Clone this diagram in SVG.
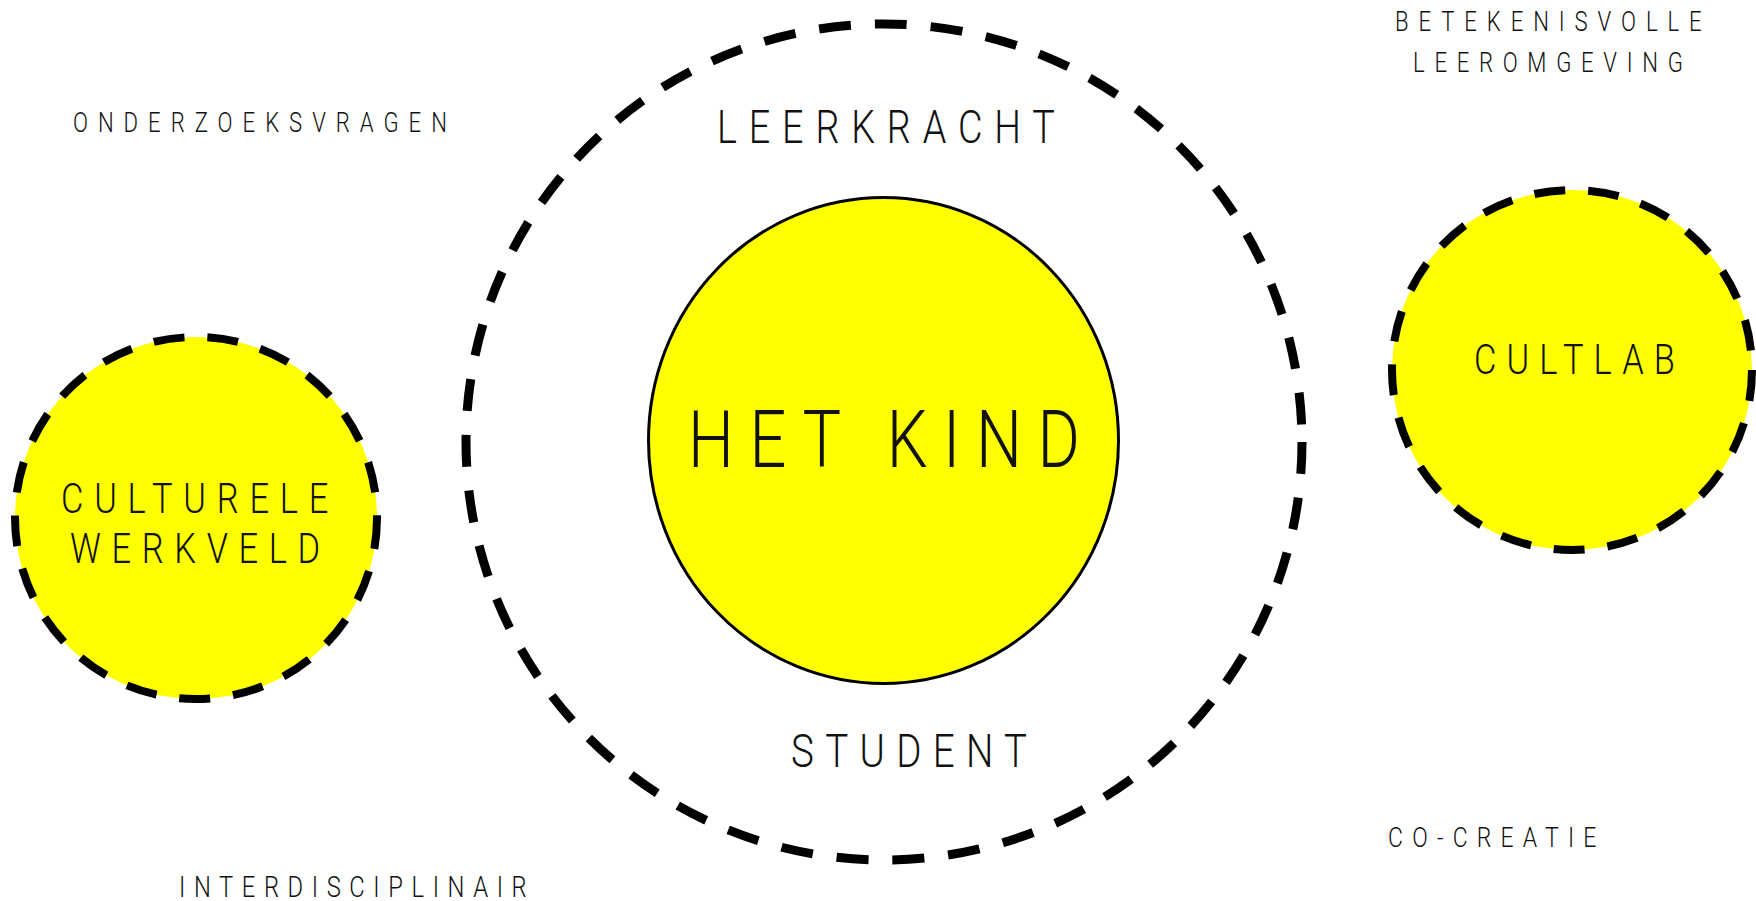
<svg xmlns="http://www.w3.org/2000/svg" width="1756" height="901" viewBox="0 0 1756 901">
<style>
.t{font-family:Roboto,"Liberation Sans",sans-serif;font-weight:300;fill:#111}
.yd{fill:#FFFF00;stroke:#000;stroke-width:8;stroke-dasharray:31 23}
.big{fill:none;stroke:#000;stroke-width:9;stroke-dasharray:32 24}
</style>
<rect width="1756" height="901" fill="#fff"/>
<g id="connectors"></g>
<g id="leerkracht-ring">
<circle class="big" cx="884" cy="442" r="418"/>
<g transform="scale(0.82 1)">
<text class="t" x="874.4" y="143" font-size="46" textLength="412" lengthAdjust="spacing">LEERKRACHT</text>
<text class="t" x="964.6" y="767" font-size="47" textLength="288" lengthAdjust="spacing">STUDENT</text>
</g>
</g>
<g id="het-kind">
<ellipse cx="883.5" cy="440.5" rx="235" ry="243" fill="#FFFF00" stroke="#000" stroke-width="3"/>
<g transform="scale(0.82 1)">
<text class="t" x="839" y="467" font-size="79" textLength="478" lengthAdjust="spacing">HET KIND</text>
</g>
</g>
<g id="culturele-werkveld">
<circle class="yd" cx="196" cy="518" r="181"/>
<g transform="scale(0.82 1)">
<text class="t" x="74.4" y="513" font-size="42" textLength="326" lengthAdjust="spacing">CULTURELE</text>
<text class="t" x="85.4" y="563" font-size="42" textLength="305" lengthAdjust="spacing">WERKVELD</text>
</g>
</g>
<g id="cultlab">
<circle class="yd" cx="1572" cy="370" r="180"/>
<g transform="scale(0.82 1)">
<text class="t" x="1797.6" y="374" font-size="42" textLength="245" lengthAdjust="spacing">CULTLAB</text>
</g>
</g>
<g id="labels" transform="scale(0.82 1)">
<text class="t" x="89" y="132" font-size="27" textLength="456" lengthAdjust="spacing">ONDERZOEKSVRAGEN</text>
<text class="t" x="1701.2" y="31" font-size="27" textLength="374" lengthAdjust="spacing">BETEKENISVOLLE</text>
<text class="t" x="1723.2" y="72" font-size="27" textLength="329" lengthAdjust="spacing">LEEROMGEVING</text>
<text class="t" x="218.3" y="897" font-size="29" textLength="424" lengthAdjust="spacing">INTERDISCIPLINAIR</text>
<text class="t" x="1692.7" y="847" font-size="28" textLength="254" lengthAdjust="spacing">CO-CREATIE</text>
</g>
</svg>
